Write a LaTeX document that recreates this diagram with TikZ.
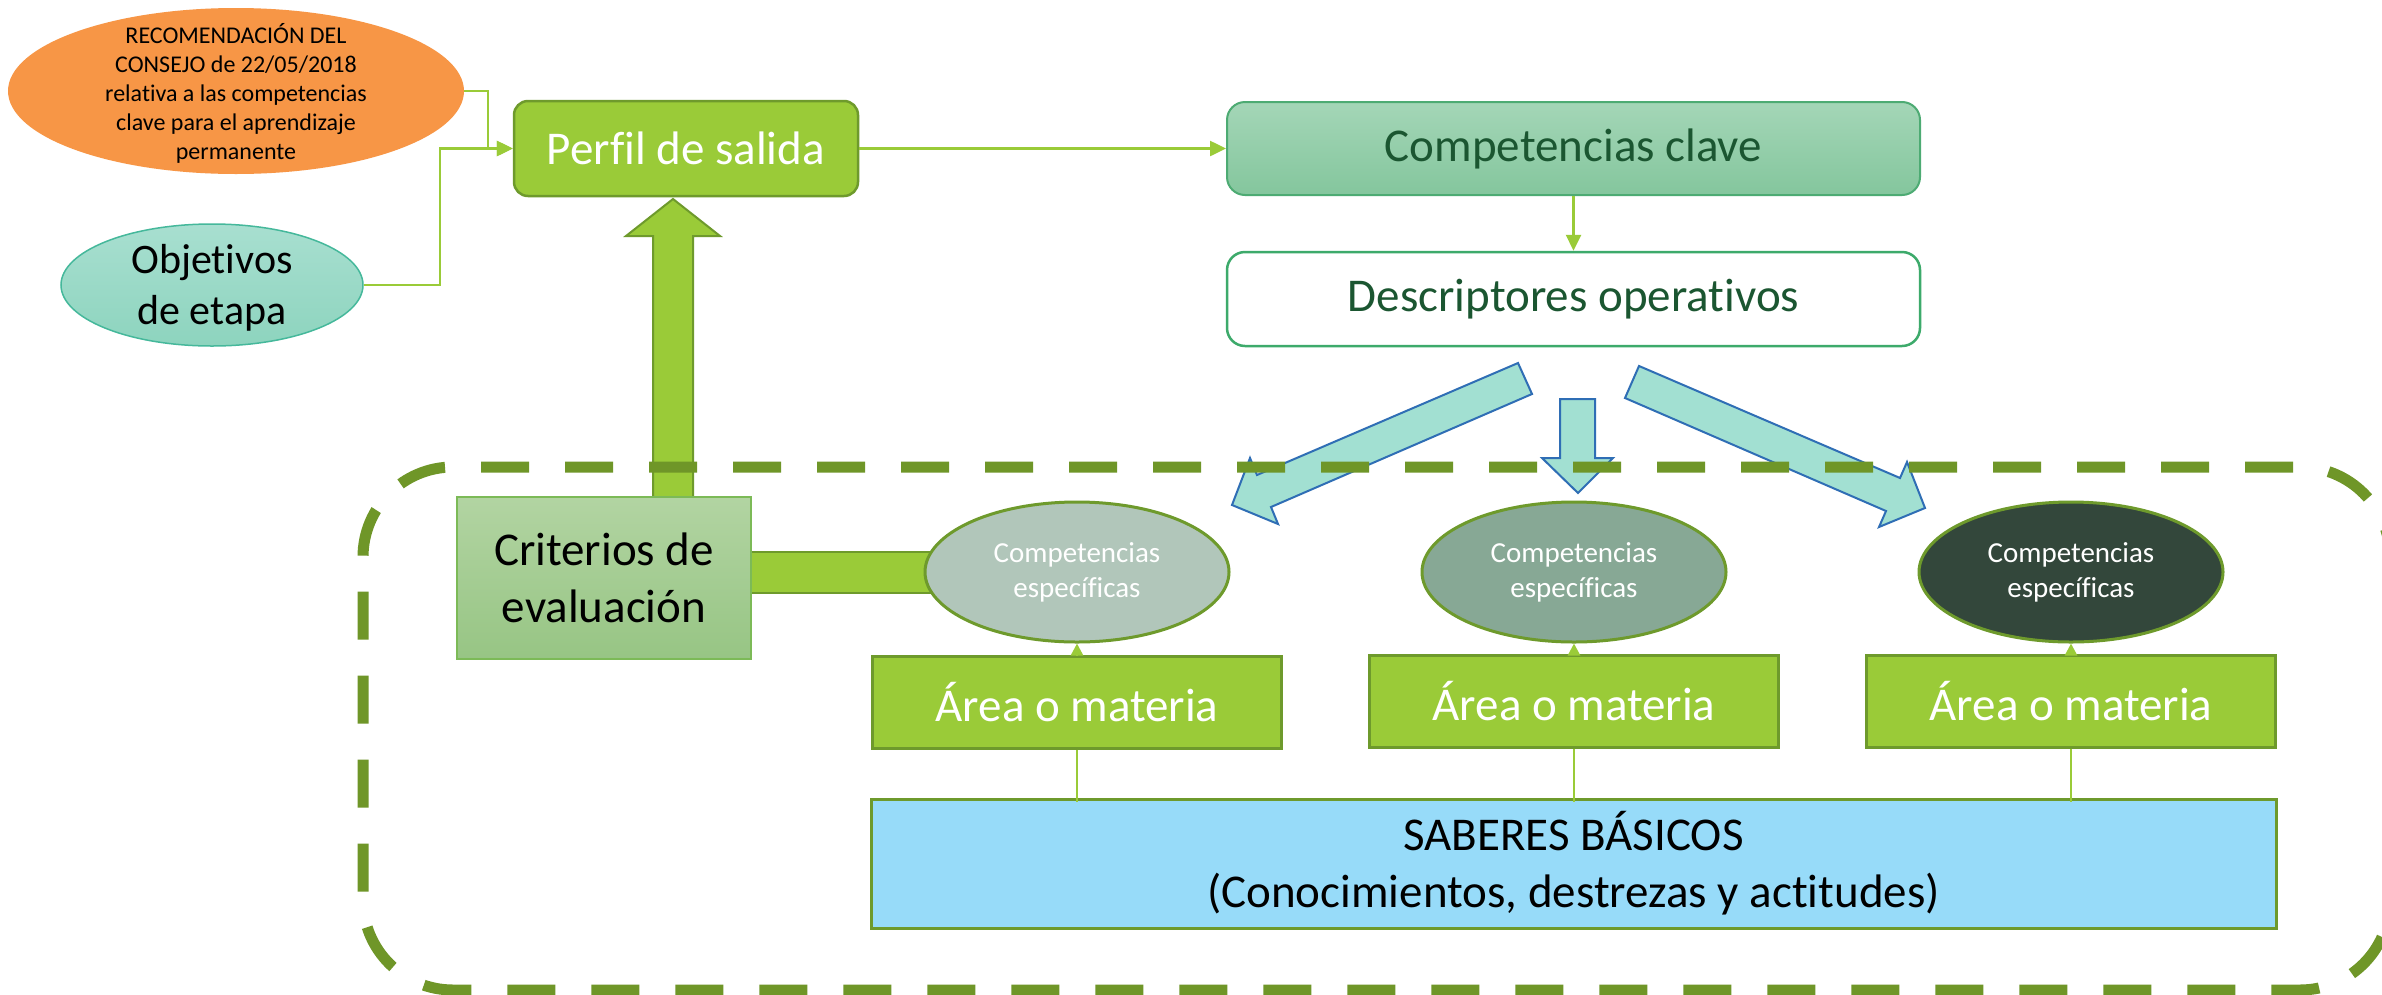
\documentclass[tikz,border=0pt]{standalone}
\usepackage{fontspec}
\setmainfont{Carlito}[Ligatures=NoCommon]
\usetikzlibrary{arrows.meta,shapes.geometric,calc}
\definecolor{cLime}{HTML}{9ACB38}
\definecolor{cOlive}{HTML}{6E9A2C}
\definecolor{cDash}{HTML}{6F9628}
\definecolor{cOrange}{HTML}{F79646}
\definecolor{cTealTop}{HTML}{A8DFD0}
\definecolor{cTealBot}{HTML}{8DD4BE}
\definecolor{cTealBorder}{HTML}{45B89B}
\definecolor{cCCtop}{HTML}{A4D6B7}
\definecolor{cCCbot}{HTML}{84C69D}
\definecolor{cCCborder}{HTML}{4DAB73}
\definecolor{cDescBorder}{HTML}{3DAA6B}
\definecolor{cDarkGreen}{HTML}{1B5631}
\definecolor{cCyan}{HTML}{A2E0D2}
\definecolor{cBlue}{HTML}{2F6EB5}
\definecolor{cCrTop}{HTML}{B2D4A2}
\definecolor{cCrBot}{HTML}{97C584}
\definecolor{cCrBorder}{HTML}{7CBA57}
\definecolor{cEllA}{HTML}{B1C6BA}
\definecolor{cEllB}{HTML}{87A895}
\definecolor{cEllC}{HTML}{33473B}
\definecolor{cSky}{HTML}{97DBF9}
\tikzset{
  conn/.style={draw=cLime, line width=2.5pt, -{Triangle[length=16pt,width=15pt]}},
  smallconn/.style={draw=cLime, line width=2.5pt, -{Triangle[length=12pt,width=12pt]}},
  plainconn/.style={draw=cLime, line width=2.5pt},
  bigfont/.style={font=\fontsize{47}{57}\selectfont},
  areabox/.style={rectangle, fill=cLime, draw=cOlive, line width=3pt, minimum width=409pt, minimum height=92pt, inner sep=0pt, text=white, bigfont},
  compell/.style={ellipse, draw=cOlive, line width=3pt, minimum width=304pt, minimum height=140pt, inner sep=0pt, text=white, align=center, font=\fontsize{29}{35}\selectfont},
  fatarrow/.style={fill=cCyan, draw=cBlue, line width=2pt, line join=miter},
  greenarrow/.style={fill=cLime, draw=cOlive, line width=2pt, line join=miter},
  frameline/.style={cDash, line width=11pt, rounded corners=90pt, dash pattern=on 48pt off 36pt},
}
\begin{document}
\begin{tikzpicture}[x=1pt,y=-1pt]
\useasboundingbox (0,0) rectangle (2382,994);
\fill[white] (0,0) rectangle (2382,994);

% top-left sources
\node[ellipse, fill=cOrange, minimum width=456pt, minimum height=166pt, inner sep=0pt] (rec) at (236,91) {};
\node[align=center, font=\fontsize{24}{29}\selectfont, inner sep=0pt] (rectxt) at (236,93) {RECOMENDACIÓN DEL\\CONSEJO de 22/05/2018\\relativa a las competencias\\clave para el aprendizaje\\permanente};
\node[ellipse, top color=cTealTop, bottom color=cTealBot, draw=cTealBorder, line width=1.5pt, minimum width=302pt, minimum height=122pt, inner sep=0pt] (obj) at (212,285) {};
\node[align=center, font=\fontsize{42}{51}\selectfont, inner sep=0pt] (objtxt) at (212,288) {Objetivos\\de etapa};

% main boxes
\node[rectangle, rounded corners=14pt, fill=cLime, draw=cOlive, line width=2.5pt, minimum width=344pt, minimum height=95pt, text=white, bigfont] (perfil) at (686,148.5) {Perfil de salida};
\node[rectangle, rounded corners=18pt, top color=cCCtop, bottom color=cCCbot, draw=cCCborder, line width=2pt, minimum width=693pt, minimum height=93pt, text=cDarkGreen, bigfont] (cc) at (1573.5,148.5) {Competencias clave};
\node[rectangle, rounded corners=18pt, fill=white, draw=cDescBorder, line width=2.5pt, minimum width=693pt, minimum height=94pt, text=cDarkGreen, bigfont] (desc) at (1573.5,299) {Descriptores operativos};

% connectors top
\draw[conn] (perfil.east) -- (cc.west);
\draw[conn] (cc.south) -- (desc.north);
\draw[conn] (rec.east) -- ++(24,0) |- (perfil.west);
\draw[conn] (obj.east) -- ++(76,0) |- (perfil.west);

% big green up arrow and bar
\draw[greenarrow] (653,500) -- (653,236) -- (626,236) -- (673,199) -- (720,236) -- (693,236) -- (693,500) -- cycle;
\draw[greenarrow] (745,552) rectangle (940,593);

% criterios
\node[rectangle, top color=cCrTop, bottom color=cCrBot, draw=cCrBorder, line width=2pt, minimum width=294pt, minimum height=162pt, align=center, bigfont] (crit) at (604,578) {Criterios de\\evaluación};

% competencias especificas
\node[compell, fill=cEllA] (ce1) at (1077,572) {Competencias\\específicas};
\node[compell, fill=cEllB] (ce2) at (1574,572) {Competencias\\específicas};
\node[compell, fill=cEllC] (ce3) at (2071,572) {Competencias\\específicas};

% area boxes
\node[areabox] (a1) at (1077,702) {Área o materia};
\node[areabox] (a2) at (1574,701) {Área o materia};
\node[areabox] (a3) at (2071,701) {Área o materia};

\node[rectangle, fill=cSky, draw=cOlive, line width=3pt, minimum width=1405pt, minimum height=129pt, align=center, bigfont] (sab) at (1573.5,863.5) {SABERES BÁSICOS\\(Conocimientos, destrezas y actitudes)};

\draw[smallconn] (a1.north) -- (ce1.south);
\draw[smallconn] (a2.north) -- (ce2.south);
\draw[smallconn] (a3.north) -- (ce3.south);
\draw[plainconn] (a1.south) -- ([yshift=-4pt]a1.south |- sab.north);
\draw[plainconn] (a2.south) -- ([yshift=-4pt]a2.south |- sab.north);
\draw[plainconn] (a3.south) -- ([yshift=-4pt]a3.south |- sab.north);

% cyan fat arrows
\draw[fatarrow] (1518,363) -- (1532,394) -- (1271,507) -- (1278,524) -- (1232,505) -- (1250,458) -- (1257,475) -- cycle;
\draw[fatarrow] (1560,399) -- (1595,399) -- (1595,458) -- (1613,458) -- (1578,493) -- (1542,458) -- (1560,458) -- cycle;
\draw[fatarrow] (1639,366) -- (1625,398) -- (1886,511) -- (1879,527) -- (1925,508) -- (1907,462) -- (1900,478) -- cycle;

% dashed frame (two halves so the dash phase matches on the visible sides)
\draw[frameline]
  (481,467) -- (2390,467) -- (2390,700);
\draw[frameline, dash phase=48pt]
  (481,467) -- (363,467) -- (363,990) -- (2390,990) -- (2390,700);
\end{tikzpicture}
\end{document}
